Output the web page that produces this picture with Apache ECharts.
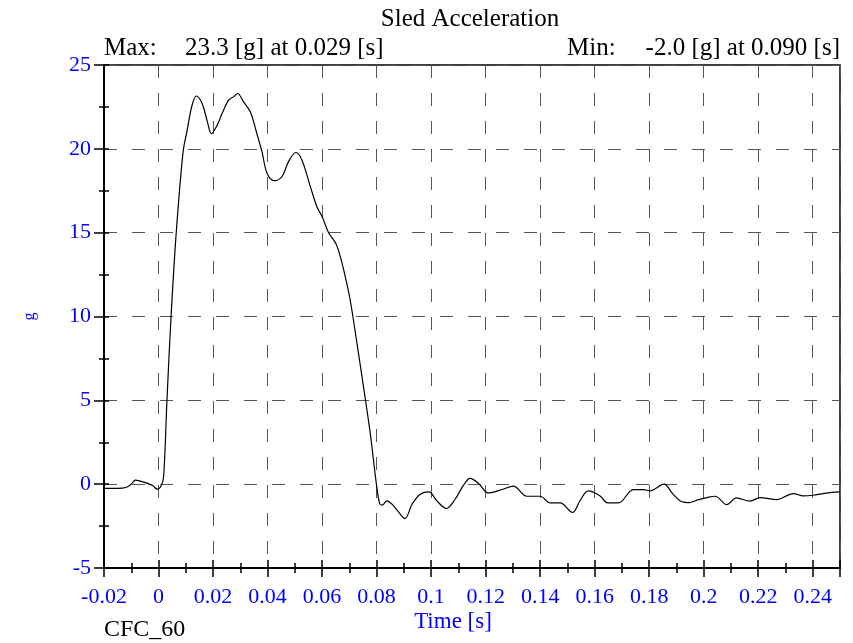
<!DOCTYPE html>
<html>
<head>
<meta charset="utf-8">
<script src="https://cdn.jsdelivr.net/npm/echarts@6/dist/echarts.min.js"></script>
<style>html,body{margin:0;padding:0;background:#fff}#c{width:853px;height:643px}</style>
</head>
<body>
<div id="c"></div>
<script>
const chartTitle = 'Sled Acceleration';
const maxLabel = 'Max:';
const maxValue = '23.3 [g] at 0.029 [s]';
const minLabel = 'Min:';
const minValue = '-2.0 [g] at 0.090 [s]';
const xName = 'Time [s]';
const yName = 'g';
const filterName = 'CFC_60';

const time = [-0.02,-0.015,-0.012,-0.010,-0.0085,-0.007,-0.004,-0.002,-0.0005,0.001,0.0019,0.0031,0.0046,0.0065,0.009,0.0105,0.0123,0.0139,0.016,0.0178,0.0194,0.0215,0.0233,0.0257,0.0275,0.029,0.0312,0.0337,0.0361,0.038,0.0398,0.0425,0.0453,0.0477,0.0504,0.0526,0.0557,0.0581,0.06,0.0624,0.065,0.0667,0.0685,0.0703,0.0728,0.0752,0.0777,0.0799,0.0811,0.082,0.0838,0.0857,0.0875,0.0904,0.093,0.096,0.0992,0.1021,0.1056,0.1088,0.1119,0.1143,0.1174,0.121,0.126,0.1302,0.1351,0.14,0.1437,0.1473,0.1519,0.1547,0.1577,0.162,0.1647,0.1687,0.1742,0.1779,0.1803,0.1855,0.1885,0.192,0.1945,0.1981,0.2012,0.2042,0.2085,0.212,0.217,0.2207,0.2268,0.2329,0.2365,0.2402,0.2463,0.25];
const accel = [-0.25,-0.25,-0.2,0.0,0.24,0.2,0.05,-0.1,-0.3,-0.1,0.5,5.0,10.0,15.0,19.8,21.1,22.6,23.15,22.7,21.7,20.9,21.4,22.1,22.9,23.1,23.3,22.8,22.2,20.9,19.8,18.55,18.1,18.35,19.24,19.78,19.34,17.75,16.55,15.96,15.0,14.37,13.57,12.38,11.0,8.4,5.8,3.0,0.04,-1.15,-1.25,-1.0,-1.2,-1.55,-2.05,-1.2,-0.6,-0.46,-1.0,-1.45,-0.9,-0.06,0.34,0.04,-0.52,-0.32,-0.12,-0.72,-0.72,-1.12,-1.12,-1.69,-0.96,-0.4,-0.7,-1.12,-1.12,-0.32,-0.32,-0.4,0.0,-0.55,-1.05,-1.1,-0.92,-0.8,-0.72,-1.22,-0.82,-1.01,-0.8,-0.92,-0.56,-0.7,-0.66,-0.5,-0.46];

const xMin = -0.02, xMax = 0.25, xStep = 0.02;
const yMin = -5, yMax = 25, yStep = 5;

const serif = 'Liberation Serif';
const blue = '#0000ff';
const chart = echarts.init(document.getElementById('c'));
const fmtX = v => String(parseFloat(v.toFixed(3)));

const baseX = { type: 'value', min: xMin, max: xMax, interval: xStep, position: 'bottom' };
const baseY = { type: 'value', min: yMin, max: yMax, interval: yStep, position: 'left' };
const tickStyle = { color: '#000', width: 1.5 };
const gridDash = { color: '#555', width: 1, type: [13, 15] };

chart.setOption({
  animation: false,
  backgroundColor: '#fff',
  grid: { left: 104, right: 13, top: 65, bottom: 75, show: true, borderColor: '#000', borderWidth: 1.5, backgroundColor: 'transparent' },
  xAxis: [
    Object.assign({}, baseX, {
      axisLine: { show: true, onZero: false, lineStyle: { color: '#000', width: 2 } },
      axisTick: { show: true, inside: false, length: 9, lineStyle: tickStyle },
      minorTick: { show: true, splitNumber: 2, length: 5, lineStyle: tickStyle },
      axisLabel: { show: true, color: blue, fontFamily: serif, fontSize: 22, margin: 18, showMaxLabel: false, formatter: fmtX },
      splitLine: { show: true, lineStyle: gridDash }
    }),
    Object.assign({}, baseX, {
      axisLine: { show: false, onZero: false },
      axisTick: { show: true, inside: true, length: 8, lineStyle: tickStyle },
      minorTick: { show: true, splitNumber: 2, length: 5, lineStyle: tickStyle },
      axisLabel: { show: false },
      splitLine: { show: false }
    })
  ],
  yAxis: [
    Object.assign({}, baseY, {
      name: yName, nameLocation: 'middle', nameGap: 66, nameRotate: 90,
      nameTextStyle: { color: blue, fontFamily: serif, fontSize: 16 },
      axisLine: { show: true, onZero: false, lineStyle: { color: '#000', width: 2 } },
      axisTick: { show: true, inside: false, length: 10, lineStyle: tickStyle },
      minorTick: { show: true, splitNumber: 2, length: 5, lineStyle: tickStyle },
      axisLabel: { show: true, color: blue, fontFamily: serif, fontSize: 22, margin: 13 },
      splitLine: { show: true, lineStyle: gridDash }
    }),
    Object.assign({}, baseY, {
      axisLine: { show: false, onZero: false },
      axisTick: { show: true, inside: true, length: 5, lineStyle: tickStyle },
      minorTick: { show: true, splitNumber: 2, length: 5, lineStyle: tickStyle },
      axisLabel: { show: false },
      splitLine: { show: false }
    })
  ],
  graphic: [
    { type: 'text', x: 470, y: 19, style: { text: chartTitle, font: '25px "Liberation Serif"', fill: '#000', align: 'center', verticalAlign: 'middle' } },
    { type: 'text', x: 104, y: 48, style: { text: maxLabel, font: '25px "Liberation Serif"', fill: '#000', align: 'left', verticalAlign: 'middle' } },
    { type: 'text', x: 185, y: 48, style: { text: maxValue, font: '25px "Liberation Serif"', fill: '#000', align: 'left', verticalAlign: 'middle' } },
    { type: 'text', x: 567, y: 48, style: { text: minLabel, font: '25px "Liberation Serif"', fill: '#000', align: 'left', verticalAlign: 'middle' } },
    { type: 'text', x: 840, y: 48, style: { text: minValue, font: '25px "Liberation Serif"', fill: '#000', align: 'right', verticalAlign: 'middle' } },
    { type: 'text', x: 453, y: 622, style: { text: xName, font: '23px "Liberation Serif"', fill: blue, align: 'center', verticalAlign: 'middle' } },
    { type: 'text', x: 104, y: 630, style: { text: filterName, font: '24px "Liberation Serif"', fill: '#000', align: 'left', verticalAlign: 'middle' } }
  ],
  series: [{
    type: 'line', xAxisIndex: 0, yAxisIndex: 0,
    data: time.map((t, i) => [t, accel[i]]),
    smooth: 0.35, showSymbol: false,
    lineStyle: { color: '#000', width: 1.2 }
  }]
});
</script>
</body>
</html>
